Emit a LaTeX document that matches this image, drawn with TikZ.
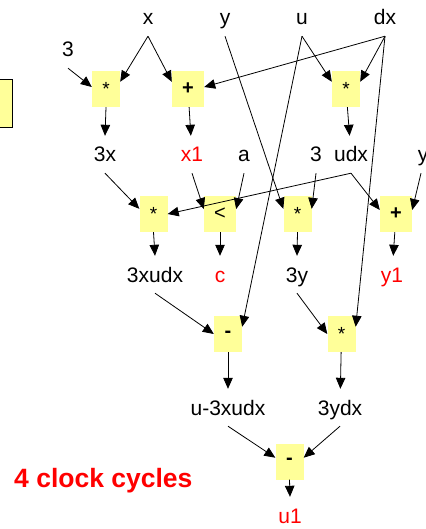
\documentclass[tikz,border=0pt]{standalone}
\usepackage{fontspec}
\setmainfont{Liberation Sans}
\usetikzlibrary{arrows.meta}
\definecolor{opyellow}{HTML}{FFFF99}
\begin{document}
\begin{tikzpicture}[x=1pt,y=-1pt,
  opbox/.style={fill=opyellow, minimum width=28pt, minimum height=36pt, inner sep=0pt, font=\fontsize{19}{20}\selectfont},
  widebox/.style={opbox, minimum width=32pt},
  lbl/.style={anchor=base, text height=15pt, text depth=0pt, inner xsep=2pt, inner ysep=11pt, font=\fontsize{21}{24}\selectfont},
  redlbl/.style={lbl, text=red},
  arr/.style={-{Triangle[length=11pt,width=9.5pt]}, line width=0.8pt},
]
\useasboundingbox (0,0) rectangle (425,529);
\clip (0,0) rectangle (425,529);

% partial box at left edge
\path[fill=opyellow, draw=black, line width=0.8pt] (-5,79) rectangle (12,127);

% top inputs
\node[lbl] (x) at (148,25) {x};
\node[lbl] (y) at (225,25) {y};
\node[lbl] (u) at (302,25) {u};
\node[lbl] (dx) at (385,25) {dx};
\node[lbl] (three) at (68,57) {3};

% row 1 operators
\node[opbox] (b1) at (106,89) {*};
\node[widebox, font=\fontsize{20}{20}\selectfont\bfseries] (b2) at (188,89) {+};
\node[opbox] (b3) at (346,89) {*};

% row 1 labels
\node[lbl] (l3x) at (105,162) {3x};
\node[redlbl] (lx1) at (192,162) {x1};
\node[lbl] (la) at (244,162) {a};
\node[lbl] (lthree) at (316,162) {3};
\node[lbl] (ludx) at (351,162) {udx};
\node[lbl] (ly) at (423,162) {y};

% row 2 operators
\node[opbox] (c1) at (153.5,214) {*};
\node[widebox, font=\fontsize{20}{20}\selectfont] (c2) at (220,214) {<};
\node[opbox] (c3) at (297.5,214) {*};
\node[widebox, font=\fontsize{20}{20}\selectfont\bfseries] (c4) at (396,214) {+};

% row 2 labels
\node[lbl] (l3xudx) at (155,282) {3xudx};
\node[redlbl] (lc) at (220,282) {c};
\node[lbl] (l3y) at (297,282) {3y};
\node[redlbl] (ly1) at (392,282) {y1};

% row 3 operators
\node[opbox, font=\fontsize{20}{20}\selectfont\bfseries] (d1) at (228,334) {-};
\node[opbox] (d2) at (341.5,334) {*};

% row 3 labels
\node[lbl] (lsub) at (228,415) {u-3xudx};
\node[lbl] (l3ydx) at (340,415) {3ydx};

% final operator
\node[opbox, font=\fontsize{20}{20}\selectfont\bfseries] (e1) at (289.5,461.5) {-};
\node[redlbl] (lu1) at (290,523) {u1};

% caption
\node[anchor=base west, inner sep=0pt, text=red, font=\fontsize{26.5}{30}\selectfont\bfseries] (cc) at (14,487) {4 clock cycles};

% row 1 edges
\draw[arr] (x.south) -- (b1.27);
\draw[arr] (x.south) -- (b2.156);
\draw[arr] (three.south) -- (b1.172);
\draw[arr] (dx.south) -- (b2.7);
\draw[arr] (dx.south) -- (b3.27);
\draw[arr] (u.south) -- (b3.153);
\draw[arr] (b1.south) -- (l3x.north);
\draw[arr] (b2) -- (lx1);
\draw[arr] (b3) -- (ludx);

% row 2 edges
\draw[arr] (l3x.south) -- (c1.160);
\draw[arr] (ludx.south) -- (c1.east);
\draw[arr] (lx1.south) -- (c2.163);
\draw[arr] (la.south) -- (c2.17);
\draw[arr] (y.south) -- (c3.160);
\draw[arr] (lthree.south) -- (c3.20);
\draw[arr] (ludx.south) -- (c4.166);
\draw[arr] ([xshift=-2pt]ly.south) -- (c4.14);
\draw[arr] (c1.south) -- (l3xudx.north);
\draw[arr] (c2.south) -- (lc.north);
\draw[arr] (c3.south) -- (l3y.north);
\draw[arr] (c4) -- (ly1);

% row 3 edges
\draw[arr] (l3xudx.south) -- (d1.west);
\draw[arr] (u.south) -- (d1.27);
\draw[arr] (l3y.south) -- (d2.west);
\draw[arr] (dx.south) -- (d2.27);
\draw[arr] (d1.south) -- (lsub.north);
\draw[arr] (d2) -- (l3ydx);

% final edges
\draw[arr] (lsub.south) -- (e1.165);
\draw[arr] (l3ydx.south) -- (e1.15);
\draw[arr] (e1.south) -- (lu1.north);
\end{tikzpicture}
\end{document}
